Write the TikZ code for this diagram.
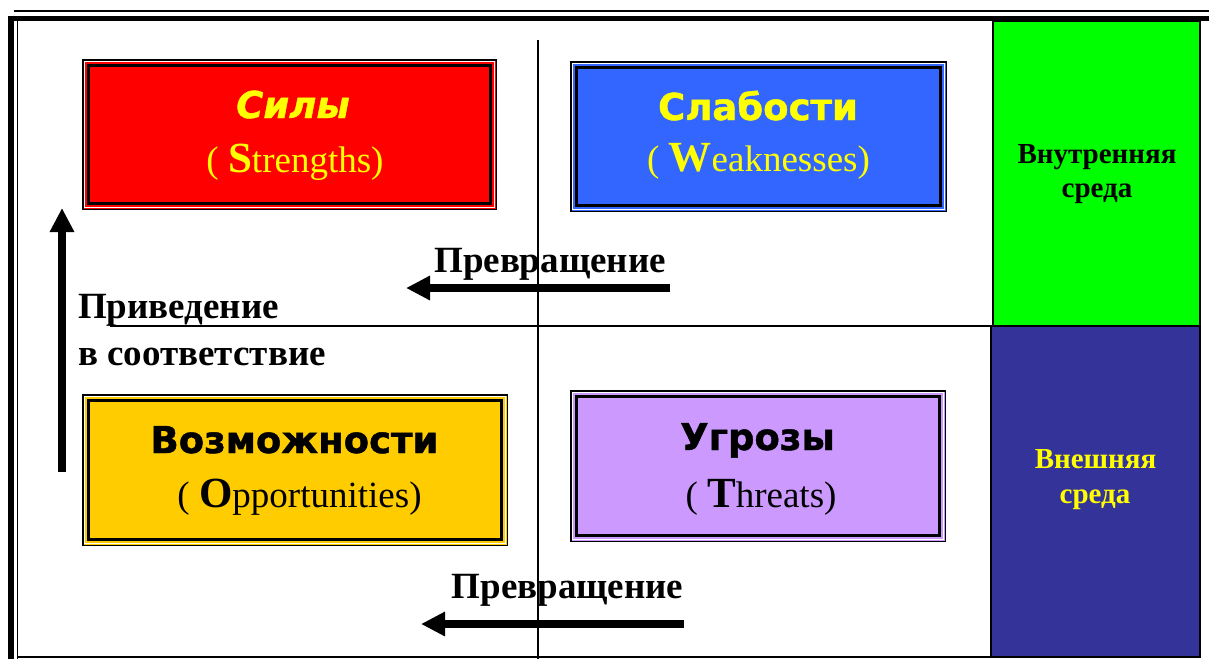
\documentclass[tikz,border=0pt]{standalone}
\usepackage{fontspec}
\setmainfont{Liberation Serif}
\newfontfamily\heavyfont[BoldFeatures={FakeBold=1.2},BoldItalicFeatures={FakeBold=1.2}]{DejaVu Sans}
\usetikzlibrary{arrows.meta,calc}
\definecolor{sred}{HTML}{FF0000}
\definecolor{sblue}{HTML}{3366FF}
\definecolor{sgold}{HTML}{FFCC00}
\definecolor{slilac}{HTML}{CC99FF}
\definecolor{sgreen}{HTML}{00FF00}
\definecolor{snavy}{HTML}{333399}
\definecolor{syellow}{HTML}{FFFF00}
\newcommand\capletter[1]{{\fontsize{43}{43}\selectfont\bfseries #1}}
\begin{document}
\begin{tikzpicture}[x=1pt,y=-1pt,
  swot/.style={draw=black, line width=1.5pt, inner sep=0pt, outer sep=0pt},
  innerframe/.style={draw=black, line width=3pt},
  innerwhite/.style={draw=white, line width=0.8pt},
  title/.style={font=\heavyfont\bfseries\fontsize{37}{37}\selectfont, anchor=base, inner sep=0pt},
  sub/.style={font=\fontsize{37}{37}\selectfont, anchor=base, inner sep=0pt},
  lab/.style={font=\bfseries\fontsize{37}{37}\selectfont, inner sep=0pt},
  envlab/.style={font=\bfseries\fontsize{29}{29}\selectfont, anchor=base, inner sep=0pt},
  bigarrow/.style={line width=8pt, -{Triangle[length=24pt,width=23pt]}},
  frame/.style={draw=black, line width=1.5pt}]
\useasboundingbox (0,0) rectangle (1209,659);
\fill[white] (0,0) rectangle (1209,659);

% outer frame
\draw[frame] (14,11) -- (1209,11);
\draw[line width=5.5pt] (8,18.3) -- (1209,18.3);
\draw[line width=6pt] (11,15.5) -- (11,659);
\draw[frame] (17.5,21) -- (17.5,659);
\draw[frame] (17,657) -- (1200,657);
\draw[frame] (1200,21) -- (1200,657);

% environment panels
\node[swot, fill=sgreen, minimum width=207pt, minimum height=305pt] (inner) at (1096.5,173.5) {};
\node[swot, fill=snavy, minimum width=209pt, minimum height=331pt] (outer) at (1095.5,491.5) {};
\node[envlab] (in1) at (1097,163) {Внутренняя};
\node[envlab] (in2) at (1097,197) {среда};
\node[envlab, text=syellow] (out1) at (1095.5,468) {Внешняя};
\node[envlab, text=syellow] (out2) at (1095,503) {среда};

% dividing lines
\coordinate (vtop) at (538,40);
\coordinate (vbot) at (538,659);
\coordinate (hl) at (110,326);
\coordinate (hr) at (inner.south west);
\draw[line width=2pt] (vtop) -- (vbot);
\draw[line width=1.3pt] (hl) -- (hr);

% SWOT boxes
\node[swot, fill=sred, minimum width=413.5pt, minimum height=149.5pt] (S) at (289.5,134.5) {};
\node[swot, fill=sblue, minimum width=375.5pt, minimum height=149.5pt] (W) at (758.5,136.5) {};
\node[swot, fill=sgold, minimum width=424.5pt, minimum height=150.5pt] (O) at (295,470) {};
\node[swot, fill=slilac, minimum width=374.5pt, minimum height=150.5pt] (T) at (758,466) {};
\foreach \b in {S,W,O,T}{
  \draw[innerwhite] ($(\b.north west)+(1.9,1.9)$) rectangle ($(\b.south east)+(-1.9,-1.9)$);
  \draw[innerframe] ($(\b.north west)+(6.2,6.2)$) rectangle ($(\b.south east)+(-6.2,-6.2)$);
}

\node[title, text=syellow, font=\heavyfont\bfseries\itshape\fontsize{37}{37}\selectfont] (St) at (293,118) {Силы};
\node[sub, text=syellow] (Ss) at (295,172) {( \capletter{S}trengths)};
\node[title, text=syellow] (Wt) at (758,120) {Слабости};
\node[sub, text=syellow] (Ws) at (758.5,171) {( \capletter{W}eaknesses)};
\node[title] (Ot) at (294.5,453) {Возможности};
\node[sub] (Os) at (299.5,507) {( \capletter{O}pportunities)};
\node[title] (Tt) at (757.5,450) {Угрозы};
\node[sub] (Ts) at (761,507) {( \capletter{T}hreats)};

% labels and arrows
\node[lab, anchor=base] (p1) at (550,272) {Превращение};
\node[lab, anchor=base] (p2) at (567.5,598) {Превращение};
\node[lab, anchor=base west] (m1) at (78,318) {Приведение};
\node[lab, anchor=base west] (m2) at (78,365) {в соответствие};

\coordinate (a1s) at (670,288);
\coordinate (a1e) at (406,288);
\coordinate (a2s) at (684,624);
\coordinate (a2e) at (421,624);
\coordinate (a3s) at (62,472);
\coordinate (a3e) at (62,208);
\draw[bigarrow] (a1s) -- (a1e);
\draw[bigarrow] (a2s) -- (a2e);
\draw[bigarrow] (a3s) -- (a3e);
\end{tikzpicture}
\end{document}
